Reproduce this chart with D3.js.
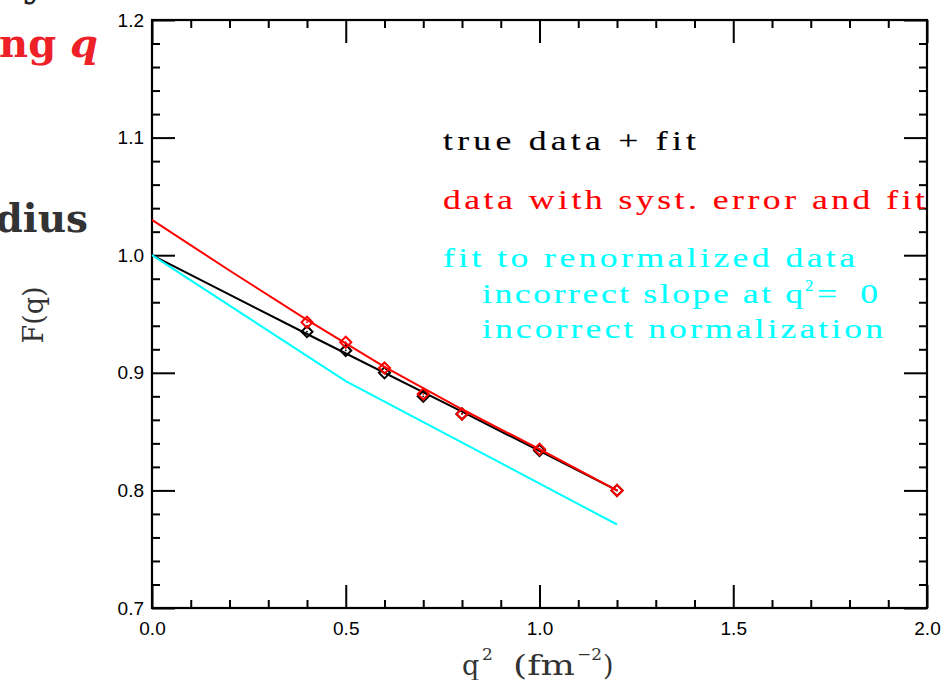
<!DOCTYPE html>
<html>
<head>
<meta charset="utf-8">
<script src="https://cdn.jsdelivr.net/npm/d3@7"></script>
<style>
  body { margin: 0; background: #fff; }
  svg { display: block; }
</style>
</head>
<body>
<script>
const w = 944;
const h = 680;

// measured data points (q^2 in fm^-2, F(q))
const q2Points = [0.4, 0.5, 0.6, 0.7, 0.8, 1.0, 1.2];
const trueData = [0.935, 0.919, 0.900, 0.880, 0.865, 0.834, 0.800];
const systData = [0.943, 0.926, 0.904, 0.882, 0.865, 0.835, 0.800];

// fit curves
const trueFitQ2 = [0.0, 0.4, 0.8, 1.2];
const trueFit = [1.000, 0.933, 0.867, 0.800];
const systFitQ2 = [0.0, 0.2, 0.4, 0.6, 0.8, 1.0, 1.2];
const systFit = [1.030, 0.987, 0.945, 0.905, 0.869, 0.835, 0.800];
const renormFitQ2 = [0.0, 0.5, 1.2];
const renormFit = [1.000, 0.893, 0.771];

const xMajor = [0, 0.5, 1.0, 1.5, 2.0];
const yMajor = [0.7, 0.8, 0.9, 1.0, 1.1, 1.2];

const svg = d3.select("body")
              .append("svg")
              .attr("width", w)
              .attr("height", h);

const x = d3.scaleLinear().domain([0, 2]).range([152, 927]);
const y = d3.scaleLinear().domain([0.7, 1.2]).range([608, 20]);

const xMinor = d3.range(0, 2.001, 0.1).filter(v => Math.abs(v * 2 - Math.round(v * 2)) > 1e-6);
const yMinor = d3.range(0.7, 1.2001, 0.02).filter(v => Math.abs(v * 10 - Math.round(v * 10)) > 1e-6);

const tickFont = "'Liberation Sans', Arial, sans-serif";
const serif = "'Liberation Serif', 'Times New Roman', serif";
const wideSerif = "'DejaVu Serif', serif";

// slide text cut off at the left
svg.append("text")
   .attr("x", 46).attr("y", -4)
   .attr("text-anchor", "end")
   .attr("font-family", wideSerif).attr("font-weight", "bold")
   .attr("font-size", 40).attr("fill", "#222")
   .text("y");

const ngq = svg.append("text")
   .attr("x", 98).attr("y", 57)
   .attr("text-anchor", "end")
   .attr("font-family", wideSerif).attr("font-weight", "bold")
   .attr("font-size", 40).attr("fill", "#ee2028");
ngq.append("tspan").text("ng ");
ngq.append("tspan").attr("font-style", "italic").text("q");

svg.append("text")
   .attr("x", 88).attr("y", 232)
   .attr("text-anchor", "end")
   .attr("font-family", wideSerif).attr("font-weight", "bold")
   .attr("font-size", 39).attr("fill", "#333")
   .text("dius");

// axes: ticks point inward on all four sides
const addAxis = function(axis, tx, ty, values, size, labels) {
  const g = svg.append("g")
     .attr("transform", "translate(" + tx + "," + ty + ")")
     .call(axis.tickValues(values).tickSize(-size)
               .tickFormat(labels ? d3.format(".1f") : ""));
  g.select(".domain").remove();
  g.selectAll("line").attr("stroke", "#000").attr("stroke-width", 2);
  g.selectAll("text")
   .attr("font-family", tickFont)
   .attr("font-size", 19)
   .attr("fill", "#000");
  return g;
}

addAxis(d3.axisBottom(x).tickPadding(13.5), 0, 608, xMajor, 23, true);
addAxis(d3.axisBottom(x), 0, 608, xMinor, 8, false);
addAxis(d3.axisTop(x), 0, 20, xMajor, 23, false);
addAxis(d3.axisTop(x), 0, 20, xMinor, 8, false);
addAxis(d3.axisLeft(y).tickPadding(8), 152, 0, yMajor, 23, true);
addAxis(d3.axisLeft(y), 152, 0, yMinor, 8, false);
addAxis(d3.axisRight(y), 927, 0, yMajor, 23, false);
addAxis(d3.axisRight(y), 927, 0, yMinor, 8, false);

svg.append("rect")
   .attr("x", 152).attr("y", 20)
   .attr("width", 927 - 152).attr("height", 608 - 20)
   .attr("fill", "none")
   .attr("stroke", "#000")
   .attr("stroke-width", 2.2);

// axis titles
svg.append("text")
   .attr("transform", "translate(43,315) rotate(-90)")
   .attr("text-anchor", "middle")
   .attr("font-family", wideSerif)
   .attr("font-size", 27)
   .attr("fill", "#333")
   .text("F(q)");

const xTitle = function(str, tx, ty, size, len) {
  const t = svg.append("text")
     .attr("x", tx).attr("y", ty)
     .attr("font-family", wideSerif)
     .attr("font-size", size)
     .attr("fill", "#333")
     .text(str);
  if (len) t.attr("textLength", len).attr("lengthAdjust", "spacingAndGlyphs");
}
xTitle("q", 462, 675, 27);
xTitle("2", 482, 660, 17);
xTitle("(fm", 513, 675, 27, 62);
xTitle("\u22122", 577, 660, 17, 25);
xTitle(")", 603, 675, 27);

// lines
const line = d3.line().x(d => x(d[0])).y(d => y(d[1]));

const drawLine = function(xs, ys, color) {
  svg.append("path")
     .datum(d3.zip(xs, ys))
     .attr("fill", "none")
     .attr("stroke", color)
     .attr("stroke-width", 2)
     .attr("d", line);
}

const diamond = d3.symbol().type(d3.symbolSquare).size(62);

const drawPoints = function(xs, ys, color) {
  const g = svg.append("g");
  const pts = d3.zip(xs, ys);
  g.selectAll("path")
   .data(pts)
   .enter()
   .append("path")
   .attr("transform", d => "translate(" + x(d[0]) + "," + y(d[1]) + ") rotate(45)")
   .attr("d", diamond)
   .attr("fill", "none")
   .attr("stroke", color)
   .attr("stroke-width", 2);
  g.selectAll("circle")
   .data(pts)
   .enter()
   .append("circle")
   .attr("cx", d => x(d[0]))
   .attr("cy", d => y(d[1]))
   .attr("r", 0.9)
   .attr("fill", color);
}

drawLine(trueFitQ2, trueFit, "#000");
drawPoints(q2Points, trueData, "#000");
drawLine(renormFitQ2, renormFit, "#00ffff");
drawLine(systFitQ2, systFit, "#ff0000");
drawPoints(q2Points, systData, "#ff0000");

// legend text: serif glyphs widened to look like the typewriter face
const legend = function(str, tx, ty, len, color, size, sx) {
  sx = sx || 1.32;
  return svg.append("text")
     .attr("transform", "translate(" + tx + "," + ty + ") scale(" + sx + ",1)")
     .attr("font-family", serif)
     .attr("font-size", size || 27)
     .attr("fill", color)
     .attr("stroke", color)
     .attr("stroke-width", 0.15)
     .attr("textLength", len / sx)
     .attr("lengthAdjust", "spacing")
     .text(str);
}

legend("true data + fit", 443, 150, 253, "#000");
legend("data with syst. error and fit", 443, 209, 482, "#ff0000");
legend("fit to renormalized data", 443, 267, 412, "#00ffff");
legend("incorrect slope at q", 482, 303, 321, "#00ffff");
legend("2", 805, 291, 9, "#00ffff", 17, 1);
legend("=0", 817, 303, 61, "#00ffff");
legend("incorrect normalization", 482, 338, 401, "#00ffff");
</script>
</body>
</html>
